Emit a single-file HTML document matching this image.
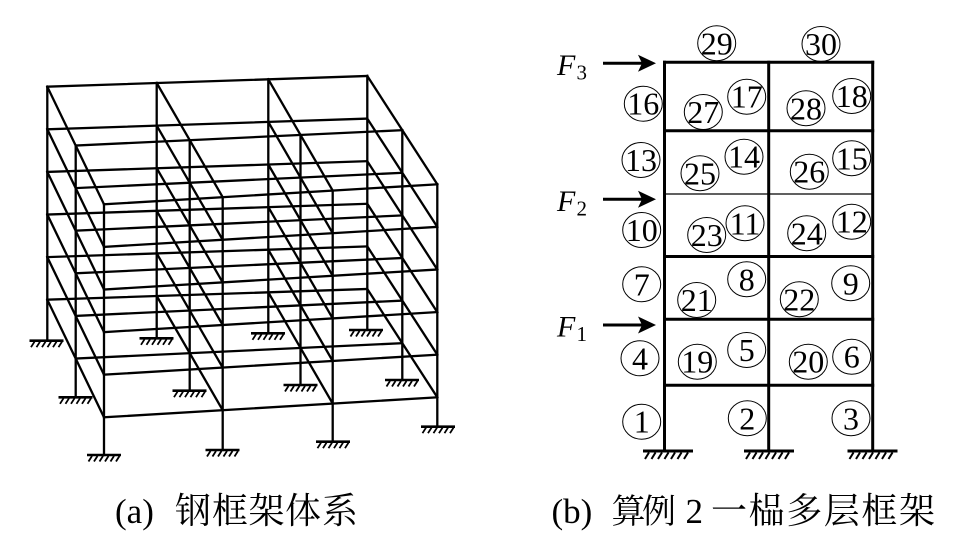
<!DOCTYPE html>
<html>
<head>
<meta charset="utf-8">
<style>
  html,body{margin:0;padding:0;background:#fff;}
  svg{display:block;}
</style>
</head>
<body>
<svg width="977" height="542" viewBox="0 0 977 542" xmlns="http://www.w3.org/2000/svg">
  <rect width="977" height="542" fill="#fff"/>
  <defs>
    <g id="lvl" stroke="#000" stroke-width="2.3" stroke-linecap="square" fill="none">
      <line x1="47.3" y1="86.7" x2="367.3" y2="76"/>
      <line x1="75.7" y1="145.5" x2="402.3" y2="130.2"/>
      <line x1="104" y1="204.3" x2="437.3" y2="184.3"/>
      <line x1="47.3" y1="86.7" x2="104" y2="204.3"/>
      <line x1="156.7" y1="83" x2="222.7" y2="197.2"/>
      <line x1="268.3" y1="79.3" x2="332.7" y2="190.6"/>
      <line x1="367.3" y1="76" x2="437.3" y2="184.3"/>
    </g>
    <g id="ha" stroke="#000" fill="none">
      <line x1="-17" y1="0" x2="17" y2="0" stroke-width="2.6"/>
      <path d="M-12 1 l-3.5 5.5 M-6.5 1 l-3.5 5.5 M-1 1 l-3.5 5.5 M4.5 1 l-3.5 5.5 M10 1 l-3.5 5.5 M15.5 1 l-3.5 5.5" stroke-width="1.8"/>
    </g>
    <g id="hb" stroke="#000" fill="none">
      <line x1="-25" y1="0" x2="25" y2="0" stroke-width="3"/>
      <path d="M-19 1.5 l-4 6.5 M-12.5 1.5 l-4 6.5 M-6 1.5 l-4 6.5 M0.5 1.5 l-4 6.5 M7 1.5 l-4 6.5 M13.5 1.5 l-4 6.5 M20 1.5 l-4 6.5" stroke-width="2"/>
    </g>
  </defs>

  <!-- ===== (a) 3D frame ===== -->
  <use href="#lvl"/>
  <use href="#lvl" transform="translate(0,42.6)"/>
  <use href="#lvl" transform="translate(0,85.2)"/>
  <use href="#lvl" transform="translate(0,127.8)"/>
  <use href="#lvl" transform="translate(0,170.4)"/>
  <use href="#lvl" transform="translate(0,213)"/>

  <g stroke="#000" stroke-width="2.3" stroke-linecap="square">
    <line x1="47.3" y1="86.7" x2="47.3" y2="340.7"/>
    <line x1="156.7" y1="83" x2="156.7" y2="338.3"/>
    <line x1="268.3" y1="79.3" x2="268.3" y2="333.3"/>
    <line x1="367.3" y1="76" x2="367.3" y2="330"/>
    <line x1="75.7" y1="145.5" x2="75.7" y2="397.3"/>
    <line x1="189.7" y1="140.1" x2="189.7" y2="390.7"/>
    <line x1="300.5" y1="135" x2="300.5" y2="385"/>
    <line x1="402.3" y1="130.2" x2="402.3" y2="380"/>
    <line x1="104" y1="204.3" x2="104" y2="455"/>
    <line x1="222.7" y1="197.2" x2="222.7" y2="450"/>
    <line x1="332.7" y1="190.6" x2="332.7" y2="441.7"/>
    <line x1="437.3" y1="184.3" x2="437.3" y2="426.7"/>
  </g>

  <use href="#ha" x="46.5" y="340.7"/>
  <use href="#ha" x="156.5" y="338.3"/>
  <use href="#ha" x="268" y="333.3"/>
  <use href="#ha" x="366" y="330"/>
  <use href="#ha" x="75.5" y="397.3"/>
  <use href="#ha" x="189.5" y="390.7"/>
  <use href="#ha" x="300.5" y="385"/>
  <use href="#ha" x="402" y="380"/>
  <use href="#ha" x="104" y="455"/>
  <use href="#ha" x="222.5" y="450"/>
  <use href="#ha" x="333" y="441.7"/>
  <use href="#ha" x="438" y="426.7"/>

  <!-- ===== (b) 2D frame ===== -->
  <g stroke="#000" stroke-linecap="square">
    <line x1="664.5" y1="62.3" x2="664.5" y2="451" stroke-width="3"/>
    <line x1="768.7" y1="62.3" x2="768.7" y2="451" stroke-width="3"/>
    <line x1="872.7" y1="62.3" x2="872.7" y2="451" stroke-width="3"/>
    <line x1="664.5" y1="62.3" x2="872.7" y2="62.3" stroke-width="3"/>
    <line x1="664.5" y1="130.7" x2="872.7" y2="130.7" stroke-width="3"/>
    <line x1="664.5" y1="194" x2="872.7" y2="194" stroke-width="1.3"/>
    <line x1="664.5" y1="256.5" x2="872.7" y2="256.5" stroke-width="3"/>
    <line x1="664.5" y1="319.3" x2="872.7" y2="319.3" stroke-width="3"/>
    <line x1="664.5" y1="385.3" x2="872.7" y2="385.3" stroke-width="3"/>
  </g>
  <use href="#hb" x="668" y="451"/>
  <use href="#hb" x="769" y="451"/>
  <use href="#hb" x="872.5" y="451"/>

  <!-- arrows -->
  <g stroke="#000" stroke-width="3">
    <line x1="603" y1="63.3" x2="645" y2="63.3"/>
    <line x1="603" y1="199.3" x2="645" y2="199.3"/>
    <line x1="603" y1="325" x2="645" y2="325"/>
  </g>
  <g fill="#000">
    <polygon points="656,63.3 638,54.8 642,63.3 638,71.8"/>
    <polygon points="656,199.3 638,190.8 642,199.3 638,207.8"/>
    <polygon points="656,325 638,316.5 642,325 638,333.5"/>
  </g>

  <!-- F labels -->
  <g font-family="'Liberation Serif', serif" fill="#000">
    <text x="557" y="75" font-size="30" font-style="italic">F</text>
    <text x="576.5" y="79.3" font-size="21">3</text>
    <text x="557" y="211" font-size="30" font-style="italic">F</text>
    <text x="576.5" y="215.3" font-size="21">2</text>
    <text x="557" y="336.7" font-size="30" font-style="italic">F</text>
    <text x="576.5" y="341" font-size="21">1</text>
  </g>

  <!-- numbered circles -->
  <g fill="none" stroke="#000" stroke-width="1">
    <ellipse cx="716.7" cy="43.3" rx="19" ry="17.5"/>
    <ellipse cx="821" cy="44" rx="19" ry="17.5"/>
    <ellipse cx="643.3" cy="103.7" rx="19" ry="17.5"/>
    <ellipse cx="703.3" cy="112" rx="19" ry="17.5"/>
    <ellipse cx="746.7" cy="96.7" rx="19" ry="17.5"/>
    <ellipse cx="806" cy="108.3" rx="19" ry="17.5"/>
    <ellipse cx="851.7" cy="96" rx="19" ry="17.5"/>
    <ellipse cx="641" cy="160" rx="19" ry="17.5"/>
    <ellipse cx="700" cy="173.3" rx="19" ry="17.5"/>
    <ellipse cx="744" cy="156.7" rx="19" ry="17.5"/>
    <ellipse cx="809.3" cy="171.7" rx="19" ry="17.5"/>
    <ellipse cx="851.7" cy="158.3" rx="19" ry="17.5"/>
    <ellipse cx="641.7" cy="230" rx="19" ry="17.5"/>
    <ellipse cx="706.7" cy="235" rx="19" ry="17.5"/>
    <ellipse cx="745" cy="223.3" rx="19" ry="17.5"/>
    <ellipse cx="806.7" cy="233.3" rx="19" ry="17.5"/>
    <ellipse cx="851.7" cy="221.7" rx="19" ry="17.5"/>
    <ellipse cx="641.7" cy="284.3" rx="19" ry="17.5"/>
    <ellipse cx="696.7" cy="300" rx="19" ry="17.5"/>
    <ellipse cx="746.7" cy="279.3" rx="19" ry="17.5"/>
    <ellipse cx="799.3" cy="299.3" rx="19" ry="17.5"/>
    <ellipse cx="850.7" cy="283.3" rx="19" ry="17.5"/>
    <ellipse cx="640" cy="358.3" rx="19" ry="17.5"/>
    <ellipse cx="697.3" cy="361.7" rx="19" ry="17.5"/>
    <ellipse cx="746.7" cy="350" rx="19" ry="17.5"/>
    <ellipse cx="808.3" cy="361.7" rx="19" ry="17.5"/>
    <ellipse cx="851.7" cy="356.7" rx="19" ry="17.5"/>
    <ellipse cx="641.7" cy="421.7" rx="19" ry="17.5"/>
    <ellipse cx="747.3" cy="418.3" rx="19" ry="17.5"/>
    <ellipse cx="851" cy="418.3" rx="19" ry="17.5"/>
  </g>
  <g font-family="'Liberation Serif', serif" font-size="32" fill="#000" text-anchor="middle">
    <text x="716.7" y="54.3">29</text>
    <text x="821" y="55">30</text>
    <text x="643.3" y="114.7">16</text>
    <text x="703.3" y="123">27</text>
    <text x="746.7" y="107.7">17</text>
    <text x="806" y="119.3">28</text>
    <text x="851.7" y="107">18</text>
    <text x="641" y="171">13</text>
    <text x="700" y="184.3">25</text>
    <text x="744" y="167.7">14</text>
    <text x="809.3" y="182.7">26</text>
    <text x="851.7" y="169.3">15</text>
    <text x="641.7" y="241">10</text>
    <text x="706.7" y="246">23</text>
    <text x="745" y="234.3">11</text>
    <text x="806.7" y="244.3">24</text>
    <text x="851.7" y="232.7">12</text>
    <text x="641.7" y="295.3">7</text>
    <text x="696.7" y="311">21</text>
    <text x="746.7" y="290.3">8</text>
    <text x="799.3" y="310.3">22</text>
    <text x="850.7" y="294.3">9</text>
    <text x="640" y="369.3">4</text>
    <text x="697.3" y="372.7">19</text>
    <text x="746.7" y="361">5</text>
    <text x="808.3" y="372.7">20</text>
    <text x="851.7" y="367.7">6</text>
    <text x="641.7" y="432.7">1</text>
    <text x="747.3" y="429.3">2</text>
    <text x="851" y="429.3">3</text>
  </g>

  <!-- captions -->
  <g font-family="'Liberation Serif', 'Noto Serif CJK SC', serif" fill="#000">
    <text x="115" y="523" font-size="35">(a)</text>
    <text x="175 212 248.5 285 322" y="523" font-size="36">钢框架体系</text>
    <text x="551.5" y="523" font-size="35">(b)</text>
    <text x="611.5 642" y="523" font-size="34">算例</text>
    <text x="685.5" y="523" font-size="35">2</text>
    <text x="711 748.6 786.2 823.8 861.4 899" y="523" font-size="36">一榀多层框架</text>
  </g>
</svg>
</body>
</html>
